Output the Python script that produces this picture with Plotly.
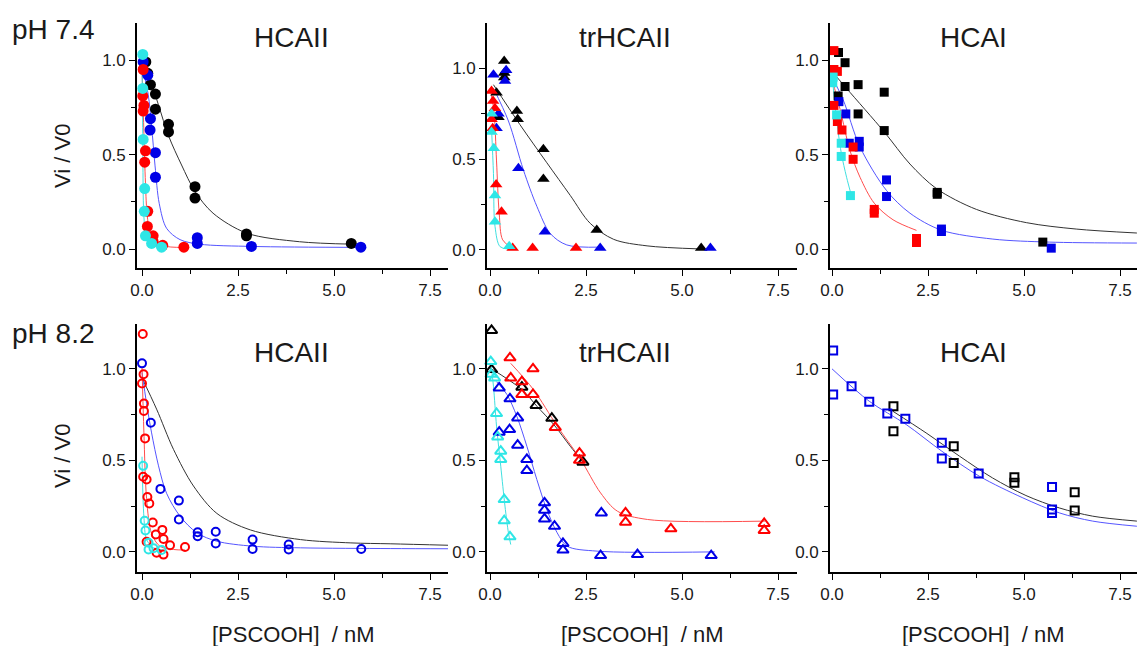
import plotly.graph_objects as go

# ===================== DATA =====================
# ---- pH 7.4, HCAII (filled circles)
t1_black_x = [0.10, 0.15, 0.22, 0.35, 0.35, 0.69, 0.69, 1.38, 1.38, 2.72, 2.72, 5.45]
t1_black_y = [0.99, 0.93, 0.87, 0.82, 0.74, 0.66, 0.62, 0.33, 0.27, 0.08, 0.07, 0.03]
t1_blue_x = [0.03, 0.15, 0.22, 0.21, 0.35, 0.35, 1.44, 1.44, 2.85, 5.70]
t1_blue_y = [0.99, 0.92, 0.69, 0.63, 0.51, 0.38, 0.06, 0.03, 0.014, 0.01]
t1_red_x = [0.03, 0.02, 0.05, 0.03, 0.09, 0.07, 0.15, 0.14, 0.29, 0.29, 0.54, 1.09]
t1_red_y = [0.95, 0.81, 0.76, 0.73, 0.52, 0.46, 0.20, 0.12, 0.07, 0.04, 0.02, 0.01]
t1_cyan_x = [0.02, 0.02, 0.03, 0.07, 0.06, 0.09, 0.25, 0.51]
t1_cyan_y = [1.03, 0.85, 0.58, 0.32, 0.20, 0.07, 0.03, 0.01]
t1_black_fit_x = [0.0, 0.2, 0.35, 0.69, 1.03, 1.38, 1.85, 2.72, 4.1, 5.48]
t1_black_fit_y = [0.99, 0.88, 0.81, 0.60, 0.445, 0.305, 0.19, 0.085, 0.039, 0.026]
t1_blue_fit_x = [0.0, 0.16, 0.25, 0.34, 0.45, 0.64, 0.99, 1.5, 2.9, 5.75]
t1_blue_fit_y = [0.97, 0.82, 0.65, 0.44, 0.24, 0.11, 0.05, 0.026, 0.014, 0.009]
t1_red_fit_x = [0.0, 0.05, 0.09, 0.14, 0.25, 0.55, 1.09]
t1_red_fit_y = [0.96, 0.61, 0.35, 0.17, 0.06, 0.018, 0.009]
t1_cyan_fit_x = [0.0, 0.02, 0.05, 0.12, 0.25, 0.5]
t1_cyan_fit_y = [1.02, 0.61, 0.17, 0.05, 0.02, 0.01]

# ---- pH 7.4, trHCAII (filled triangles)
t2_black_x = [0.37, 0.37, 0.37, 0.17, 0.22, 0.70, 0.72, 1.39, 1.39, 2.78, 5.50]
t2_black_y = [1.04, 0.975, 0.95, 0.865, 0.73, 0.765, 0.72, 0.555, 0.39, 0.11, 0.01]
t2_blue_x = [0.09, 0.42, 0.39, 0.22, 0.17, 0.74, 1.43, 2.87, 5.74]
t2_blue_y = [0.965, 0.99, 0.93, 0.75, 0.67, 0.45, 0.10, 0.01, 0.01]
t2_red_x = [0.04, 0.08, 0.13, 0.04, 0.07, 0.16, 0.30, 0.59, 1.11, 2.24]
t2_red_y = [0.875, 0.82, 0.78, 0.72, 0.67, 0.36, 0.21, 0.01, 0.01, 0.01]
t2_cyan_x = [0.04, 0.04, 0.10, 0.13, 0.13, 0.50]
t2_cyan_y = [0.75, 0.65, 0.56, 0.30, 0.155, 0.02]
t2_black_fit_x = [0.09, 0.78, 1.48, 2.09, 2.61, 3.22, 4.09, 5.48]
t2_black_fit_y = [0.91, 0.69, 0.48, 0.30, 0.146, 0.058, 0.022, 0.005]
t2_blue_fit_x = [0.09, 0.48, 0.87, 1.22, 1.57, 2.0, 2.87]
t2_blue_fit_y = [0.89, 0.71, 0.44, 0.24, 0.09, 0.027, 0.015]
t2_red_fit_x = [0.0, 0.1, 0.17, 0.24, 0.33, 0.57]
t2_red_fit_y = [0.89, 0.77, 0.49, 0.20, 0.055, 0.01]
t2_cyan_fit_x = [0.04, 0.09, 0.13, 0.26, 0.48]
t2_cyan_fit_y = [0.67, 0.42, 0.13, 0.018, 0.004]

# ---- pH 7.4, HCAI (filled squares)
t3_black_x = [0.17, 0.34, 0.34, 0.16, 0.68, 0.68, 1.36, 1.36, 2.74, 2.74, 5.49]
t3_black_y = [1.04, 0.986, 0.86, 0.81, 0.87, 0.715, 0.83, 0.627, 0.30, 0.29, 0.037]
t3_blue_x = [0.18, 0.36, 0.45, 0.71, 0.71, 1.42, 1.42, 2.85, 2.85, 5.71]
t3_blue_y = [0.78, 0.715, 0.56, 0.57, 0.54, 0.366, 0.278, 0.106, 0.093, 0.005]
t3_red_x = [0.05, 0.05, 0.14, 0.05, 0.14, 0.26, 0.55, 0.55, 1.10, 1.10, 2.20, 2.20]
t3_red_y = [1.05, 0.95, 0.94, 0.76, 0.675, 0.63, 0.54, 0.475, 0.21, 0.19, 0.056, 0.035]
t3_cyan_x = [0.02, 0.03, 0.12, 0.24, 0.24, 0.48]
t3_cyan_y = [0.88, 0.91, 0.71, 0.56, 0.49, 0.283]
t3_black_fit_x = [0.0, 0.38, 1.36, 2.03, 2.72, 3.76, 5.06, 6.36, 7.94]
t3_black_fit_y = [0.94, 0.85, 0.62, 0.45, 0.32, 0.21, 0.14, 0.106, 0.085]
t3_blue_fit_x = [0.0, 0.29, 0.73, 1.42, 2.03, 2.85, 4.19, 5.66, 7.94]
t3_blue_fit_y = [0.91, 0.79, 0.54, 0.31, 0.19, 0.10, 0.053, 0.037, 0.032]
t3_red_fit_x = [0.0, 0.21, 0.47, 0.73, 1.1, 1.59, 2.2]
t3_red_fit_y = [0.9, 0.74, 0.52, 0.38, 0.243, 0.155, 0.099]
t3_cyan_fit_x = [0.0, 0.1, 0.24, 0.38, 0.51]
t3_cyan_fit_y = [0.93, 0.72, 0.51, 0.38, 0.28]

# ---- pH 8.2, HCAII (open circles)
b1_red_x = [0.02, 0.04, 0.0, 0.05, 0.05, 0.08, 0.03, 0.12, 0.14, 0.19, 0.28, 0.12, 0.36, 0.53, 0.56, 0.73, 1.12, 0.38, 0.56]
b1_red_y = [1.19, 0.97, 0.92, 0.81, 0.77, 0.62, 0.41, 0.395, 0.30, 0.264, 0.16, 0.055, 0.095, 0.12, 0.07, 0.036, 0.027, -0.005, -0.015]
b1_blue_x = [0.0, 0.23, 0.48, 0.96, 0.96, 1.45, 1.45, 1.92, 1.92, 2.88, 2.88, 3.82, 3.82, 5.71]
b1_blue_y = [1.03, 0.705, 0.344, 0.28, 0.177, 0.107, 0.086, 0.11, 0.046, 0.067, 0.016, 0.04, 0.013, 0.016]
b1_cyan_x = [0.03, 0.07, 0.09, 0.17, 0.17, 0.30, 0.51]
b1_cyan_y = [0.47, 0.17, 0.117, 0.05, 0.013, 0.02, 0.01]
b1_black_fit_x = [0.0, 0.38, 0.82, 1.34, 1.95, 2.82, 4.13, 5.44, 6.48, 8.0]
b1_black_fit_y = [0.95, 0.78, 0.56, 0.36, 0.21, 0.12, 0.067, 0.049, 0.044, 0.036]
b1_blue_fit_x = [0.0, 0.12, 0.25, 0.43, 0.64, 0.99, 1.43, 1.95, 2.88, 4.13, 6.48, 8.0]
b1_blue_fit_y = [0.98, 0.81, 0.65, 0.47, 0.32, 0.195, 0.104, 0.058, 0.031, 0.022, 0.018, 0.017]
b1_red_fit_x = [0.0, 0.05, 0.12, 0.25, 0.47, 0.82, 1.12]
b1_red_fit_y = [1.01, 0.65, 0.29, 0.10, 0.03, 0.013, 0.01]
b1_cyan_fit_x = [0.0, 0.05, 0.12, 0.3, 0.56]
b1_cyan_fit_y = [0.52, 0.19, 0.067, 0.022, 0.01]

# ---- pH 8.2, trHCAII (open triangles)
b2_black_x = [0.04, 0.04, 0.83, 1.20, 1.61, 2.42]
b2_black_y = [1.21, 0.996, 0.90, 0.80, 0.73, 0.49]
b2_red_x = [0.52, 1.12, 0.54, 0.83, 0.83, 1.12, 1.70, 2.33, 2.33, 3.53, 3.53, 4.71, 7.14, 7.14]
b2_red_y = [1.06, 1.0, 0.95, 0.93, 0.86, 0.86, 0.68, 0.54, 0.50, 0.213, 0.162, 0.126, 0.155, 0.117]
b2_blue_x = [0.24, 0.52, 0.72, 0.24, 0.51, 0.72, 0.96, 0.96, 1.42, 1.42, 1.42, 1.68, 1.90, 1.90, 2.88, 3.84, 5.76, 2.90]
b2_blue_y = [0.896, 0.836, 0.732, 0.654, 0.668, 0.583, 0.505, 0.444, 0.268, 0.228, 0.18, 0.14, 0.046, 0.01, -0.02, -0.015, -0.02, 0.213]
b2_cyan_x = [0.02, 0.03, 0.12, 0.17, 0.20, 0.28, 0.28, 0.37, 0.37, 0.52]
b2_cyan_y = [1.04, 0.97, 0.95, 0.756, 0.628, 0.55, 0.505, 0.286, 0.17, 0.082]
b2_black_fit_x = [0.0, 0.83, 1.22, 1.66, 2.09, 2.44]
b2_black_fit_y = [1.005, 0.887, 0.796, 0.696, 0.577, 0.486]
b2_red_fit_x = [0.54, 1.13, 1.75, 2.36, 2.88, 3.32, 4.1, 7.16]
b2_red_fit_y = [1.03, 0.887, 0.687, 0.505, 0.322, 0.222, 0.177, 0.168]
b2_blue_fit_x = [0.17, 0.44, 0.7, 0.96, 1.22, 1.48, 1.75, 2.01, 2.79, 5.85]
b2_blue_fit_y = [0.93, 0.86, 0.74, 0.577, 0.395, 0.231, 0.104, 0.031, 0.004, 0.0]
b2_cyan_fit_x = [0.02, 0.09, 0.17, 0.28, 0.39, 0.48, 0.54]
b2_cyan_fit_y = [1.03, 0.905, 0.687, 0.468, 0.25, 0.104, 0.04]

# ---- pH 8.2, HCAI (open squares)
b3_blue_x = [0.03, 0.03, 0.51, 0.97, 1.44, 1.91, 2.86, 2.86, 3.82, 5.73, 5.73, 5.73]
b3_blue_y = [1.10, 0.86, 0.905, 0.82, 0.756, 0.727, 0.596, 0.51, 0.428, 0.355, 0.231, 0.213]
b3_black_x = [1.60, 1.60, 3.17, 3.17, 4.75, 4.75, 6.32, 6.32]
b3_black_y = [0.796, 0.659, 0.577, 0.486, 0.408, 0.377, 0.326, 0.226]
b3_blue_fit_x = [0.0, 0.97, 1.93, 2.86, 3.84, 4.97, 5.92, 6.79, 7.94]
b3_blue_fit_y = [1.0, 0.823, 0.696, 0.55, 0.413, 0.295, 0.213, 0.168, 0.14]
b3_black_fit_x = [1.58, 2.45, 3.32, 4.18, 5.05, 5.92, 6.79, 7.94]
b3_black_fit_y = [0.769, 0.65, 0.523, 0.404, 0.308, 0.24, 0.195, 0.168]

panel_titles = ["HCAII", "trHCAII", "HCAI", "HCAII", "trHCAII", "HCAI"]
row_labels = ["pH 7.4", "pH 8.2"]
x_title = "[PSCOOH]\u00a0 / nM"
y_title = "Vi / V0"
x_ticks = [0, 2.5, 5.0, 7.5]
y_ticks = [0, 0.5, 1.0]

# ===================== STYLE / LAYOUT =====================
W, H = 1137, 646
FONT = "Arial, Liberation Sans, sans-serif"
MARK = {"black": "#000000", "blue": "#0000e6", "red": "#ff0000", "cyan": "#2ee6e6"}
LINE = {"black": "#333333", "blue": "#5555ff", "red": "#ff4d4d", "cyan": "#40e0e0"}

cols_px = [(137, 448, 142), (487, 797, 490), (830, 1137, 832)]  # left, right, zero-pixel
rows_px = [(23, 268), (324, 572)]
PXU = 38.4
yranges = [[-0.1, 1.196], [-0.1, 1.25], [-0.1, 1.196],
           [-0.11, 1.245], [-0.11, 1.245], [-0.11, 1.245]]

g = globals()
panels = [
    ("t1", "circle", ["black", "blue", "red", "cyan"]),
    ("t2", "triangle-up", ["black", "blue", "red", "cyan"]),
    ("t3", "square", ["black", "blue", "red", "cyan"]),
    ("b1", "circle-open", ["black", "blue", "red", "cyan"]),
    ("b2", "triangle-up-open", ["black", "blue", "red", "cyan"]),
    ("b3", "square-open", ["black", "blue"]),
]
msize = {"circle": 11, "triangle-up": 11, "square": 9,
         "circle-open": 8, "triangle-up-open": 10, "square-open": 8}

fig = go.Figure()
for i, (key, sym, colors) in enumerate(panels):
    ax = "" if i == 0 else str(i + 1)
    xref, yref = "x" + ax, "y" + ax
    for c in colors:
        fx, fy = g.get(f"{key}_{c}_fit_x"), g.get(f"{key}_{c}_fit_y")
        if fx is None:
            continue
        fig.add_trace(go.Scatter(x=fx, y=fy, mode="lines", xaxis=xref, yaxis=yref,
                                 line=dict(color=LINE[c], width=1, shape="spline", smoothing=0.9),
                                 showlegend=False, hoverinfo="skip"))
    for c in colors:
        px_, py_ = g.get(f"{key}_{c}_x"), g.get(f"{key}_{c}_y")
        if px_ is None:
            continue
        is_open = sym.endswith("open")
        fig.add_trace(go.Scatter(
            x=px_, y=py_, mode="markers", xaxis=xref, yaxis=yref, cliponaxis=False,
            marker=dict(symbol=sym, size=msize[sym], color=MARK[c],
                        line=dict(color=MARK[c], width=2 if is_open else 0)),
            showlegend=False))

layout = dict(width=W, height=H, margin=dict(l=0, r=0, t=0, b=0, autoexpand=False),
              paper_bgcolor="white", plot_bgcolor="white",
              font=dict(family=FONT, color="#1a1a1a"))
annotations = []
for i in range(6):
    r, c = divmod(i, 3)
    left, right, zero = cols_px[c]
    top, bot = rows_px[r]
    ax = "" if i == 0 else str(i + 1)
    axis_common = dict(showline=True, linecolor="black", linewidth=1.6, mirror=False,
                       showgrid=False, zeroline=False, ticks="outside", ticklen=6,
                       tickwidth=1.3, tickcolor="black", automargin=False,
                       tickfont=dict(family=FONT, size=17, color="#1a1a1a"))
    layout["xaxis" + ax] = dict(
        axis_common, domain=[left / W, min(right / W, 1.0)],
        range=[(left - zero) / PXU, (right - zero) / PXU],
        tickvals=x_ticks, tickformat=".1f", anchor="y" + ax,
        minor=dict(ticks="outside", ticklen=4, tickwidth=1.3, tickcolor="black",
                   tickvals=[1.25, 3.75, 6.25]))
    layout["yaxis" + ax] = dict(
        axis_common, domain=[1 - bot / H, 1 - top / H], range=yranges[i],
        tickvals=y_ticks, tickformat=".1f", anchor="x" + ax,
        minor=dict(ticks="outside", ticklen=4, tickwidth=1.3, tickcolor="black",
                   tickvals=[0.25, 0.75]))
    annotations.append(dict(text=panel_titles[i], xref="paper", yref="paper",
                            x=[291, 625, 973][c] / W,
                            y=1 - (37 if r == 0 else 352) / H,
                            showarrow=False, font=dict(family=FONT, size=28, color="#1a1a1a"),
                            xanchor="center", yanchor="middle"))
    if r == 1:
        annotations.append(dict(text=x_title, xref="paper", yref="paper",
                                x=[293, 642, 983][c] / W, y=1 - 634 / H, showarrow=False,
                                font=dict(family=FONT, size=22, color="#1a1a1a"),
                                xanchor="center", yanchor="middle"))
for r in range(2):
    annotations.append(dict(text=row_labels[r], xref="paper", yref="paper",
                            x=10 / W, y=1 - (30 if r == 0 else 333) / H, showarrow=False,
                            font=dict(family=FONT, size=28, color="#1a1a1a"),
                            xanchor="left", yanchor="middle"))
    annotations.append(dict(text=y_title, xref="paper", yref="paper", textangle=-90,
                            x=62 / W, y=1 - (156 if r == 0 else 456) / H, showarrow=False,
                            font=dict(family=FONT, size=22, color="#1a1a1a"),
                            xanchor="center", yanchor="middle"))
layout["annotations"] = annotations
fig.update_layout(**layout)
fig.write_html("out.html", config={"displayModeBar": False},
               post_script="document.body.style.margin='0';document.body.style.overflow='hidden';")
